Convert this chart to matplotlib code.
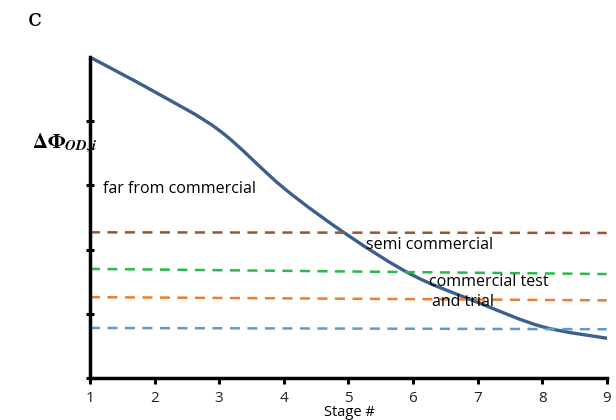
import numpy as np
import matplotlib
matplotlib.use("Agg")
from matplotlib import pyplot as plt
from matplotlib.path import Path
from matplotlib.patches import PathPatch

# stages and values
stages = [1, 2, 3, 4, 5, 6, 7, 8, 9]
delta_phi = [5.0, 4.46, 3.86, 2.96, 2.22, 1.60, 1.18, 0.80, 0.62]

# dashed level lines (value at stage 1, value at stage 9)
lvl_x = [1, 9]
lvl_brown = [2.27, 2.26]
lvl_green = [1.70, 1.62]
lvl_orange = [1.26, 1.21]
lvl_blue = [0.78, 0.76]

xticks = [1, 2, 3, 4, 5, 6, 7, 8, 9]
yticks = [0, 1, 2, 3, 4]


def smooth_path(xs, ys, t=0.5):
    # catmull-rom -> cubic bezier, like excel's smoothed line
    xs = np.asarray(xs, float)
    ys = np.asarray(ys, float)
    pts = np.column_stack([xs, ys])
    verts = [pts[0]]
    codes = [Path.MOVETO]
    n = len(pts)
    for i in range(n - 1):
        p0 = pts[i - 1] if i > 0 else pts[i]
        p1 = pts[i]
        p2 = pts[i + 1]
        p3 = pts[i + 2] if i + 2 < n else pts[i + 1]
        c1 = p1 + (p2 - p0) * t / 3
        c2 = p2 - (p3 - p1) * t / 3
        verts += [c1, c2, p2]
        codes += [Path.CURVE4] * 3
    return Path(verts, codes)


plt.rcParams['font.family'] = ['Open Sans', 'DejaVu Sans']
plt.rcParams['mathtext.fontset'] = 'stix'

fig = plt.figure(figsize=(6.16, 4.2), dpi=100)
ax = fig.add_axes([0.146, 0.1, 0.839, 0.764])

ax.plot(lvl_x, lvl_brown, ls=(0, (4, 3)), color='#A0522D', lw=1.8)
ax.plot(lvl_x, lvl_green, ls=(0, (4, 3)), color='#2DB84B', lw=1.8)
ax.plot(lvl_x, lvl_orange, ls=(0, (4, 3)), color='#ED7D31', lw=1.8)
ax.plot(lvl_x, lvl_blue, ls=(0, (4, 3)), color='#5B9BD5', lw=1.8)

ax.add_patch(PathPatch(smooth_path(stages, delta_phi), fill=False,
                       edgecolor='#3C5F8E', lw=2.4, capstyle='round'))

ax.set_xlim(1, 9)
ax.set_ylim(0, 5)
ax.set_xticks(xticks)
ax.set_yticks(yticks)
ax.set_yticklabels([])
for s in ['top', 'right']:
    ax.spines[s].set_visible(False)
for s in ['left', 'bottom']:
    ax.spines[s].set_linewidth(2.5)
ax.tick_params(axis='both', direction='inout', length=6, width=2.2, labelsize=11,
               pad=5, labelcolor='#222222')
ax.tick_params(axis='x', direction='out', length=4)

ax.text(1.2, 2.95, 'far from commercial', fontsize=11.5, va='center')
ax.text(5.27, 2.07, 'semi commercial', fontsize=11.5, va='center')
ax.text(6.25, 1.5, 'commercial test', fontsize=11.5, va='center')
ax.text(6.3, 1.19, 'and trial', fontsize=11.5, va='center')

fig.text(349 / 616, 1 - 413 / 420, 'Stage #', fontsize=10.5, ha='center', va='center')
fig.text(65 / 616, 1 - 143 / 420, r'$\mathbf{\Delta\Phi}_{\boldsymbol{OD,i}}$', fontsize=15,
         ha='center', va='center')
fig.text(35 / 616, 1 - 20 / 420, 'c', fontsize=18, family='DejaVu Serif', ha='center', va='center')

fig.savefig('out.png', dpi=100)
